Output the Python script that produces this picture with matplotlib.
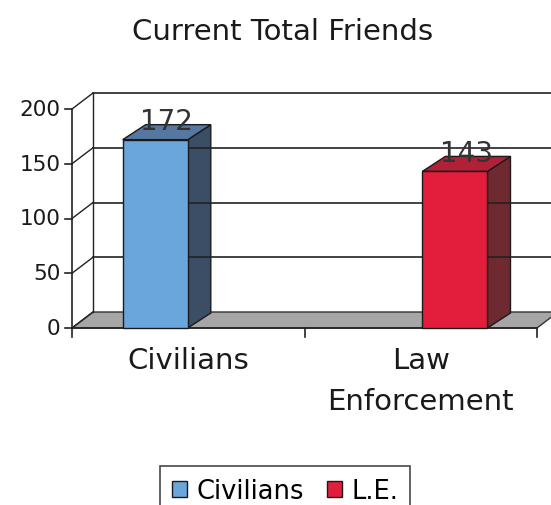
import numpy as np
import matplotlib.pyplot as plt
from matplotlib.patches import Polygon

# Chart data
categories = ["Civilians", "Law\nEnforcement"]
series_names = ["Civilians", "L.E."]
civilians = [172, 0]
law_enf = [0, 143]
yticks = [0, 50, 100, 150, 200]

# colours: front, side, top
blue = ("#6aa6dc", "#3c4d66", "#5577a0")
red = ("#e21e3c", "#6e2a30", "#b02036")

fig = plt.figure(figsize=(5.51, 5.06), dpi=100)
W, H = 551, 506
ax = fig.add_axes([72 / W, 1 - 329 / H, (537 - 72) / W, (329 - 110) / H])
ax.set_xlim(0, 2)
ax.set_ylim(0, 200)
ax.axis("off")

# pixel -> data helpers for the fake depth
px_x = 2 / (537 - 72)
px_y = 200 / (329 - 110)
wdx, wdy = 21 * px_x, 16 * px_y     # wall / floor depth
bdx, bdy = 23 * px_x, 15 * px_y     # bar depth

kw = dict(clip_on=False)
# back wall gridlines
for t in yticks:
    if t > 0:
        ax.plot([wdx, 2.2], [t + wdy, t + wdy], color="#222222", lw=1.2, **kw)
    ax.plot([0, wdx], [t, t + wdy], color="#222222", lw=1.0, **kw)
ax.plot([wdx, wdx], [wdy, 200 + wdy], color="#222222", lw=1.0, **kw)

# floor
ax.add_patch(Polygon([(0, 0), (2, 0), (2 + wdx, wdy), (wdx, wdy)],
                     closed=True, fc="#a6a6a6", ec="#333333", lw=1.0, **kw))

# front axis with ticks
ax.plot([0, 0], [0, 200], color="#222222", lw=1.2, **kw)
for t in yticks:
    ax.plot([-0.03, 0], [t, t], color="#222222", lw=1.2, **kw)
    ax.text(-0.05, t, str(t), ha="right", va="center", fontsize=15.5,
            color="#1a1a1a")
ax.plot([0, 2], [0, 0], color="#222222", lw=1.2, **kw)
for c in range(3):
    ax.plot([c, c], [0, -8], color="#222222", lw=1.2, **kw)

# bars (grouped, two series)
width = 0.28
offsets = [-0.142, 0.147]
x = np.arange(len(categories)) + 0.5
for vals, off, col in [(civilians, offsets[0], blue), (law_enf, offsets[1], red)]:
    xs = x + off
    for xi, v in zip(xs, vals):
        if v == 0:
            continue
        l, r = xi - width / 2, xi + width / 2
        ax.add_patch(Polygon([(r, 0), (r + bdx, bdy), (r + bdx, v + bdy), (r, v)],
                             closed=True, fc=col[1], ec="#1a1a1a", lw=1.0, **kw))
        ax.add_patch(Polygon([(l, v), (r, v), (r + bdx, v + bdy), (l + bdx, v + bdy)],
                             closed=True, fc=col[2], ec="#1a1a1a", lw=1.0, **kw))
        ax.text(xi + bdx / 2, v + 17, str(v), ha="center", va="center",
                fontsize=20, color="#333333", zorder=5, **kw)
    ax.bar([xi for xi, v in zip(xs, vals) if v],
           [v for v in vals if v], width=width, color=col[0],
           edgecolor="#1a1a1a", lw=1.0, clip_on=False, zorder=3)

# category labels
for xi, lab in zip(x, categories):
    ax.text(xi, -16, lab, ha="center", va="top", fontsize=21,
            linespacing=1.6, color="#1a1a1a", **kw)

# title
fig.text(283 / W, 1 - 32 / H, "Current Total Friends", ha="center", va="center",
         fontsize=21, color="#1a1a1a")

# legend
handles = [plt.Rectangle((0, 0), 1, 1, fc=blue[0], ec="#1a1a1a"),
           plt.Rectangle((0, 0), 1, 1, fc=red[0], ec="#1a1a1a")]
leg = fig.legend(handles, series_names, loc="center", bbox_to_anchor=(285 / W, 1 - 492 / H),
                 ncol=2, fontsize=18.5, frameon=True, fancybox=False, edgecolor="#1a1a1a",
                 handlelength=0.6, handleheight=0.6, handletextpad=0.35, columnspacing=0.9,
                 borderpad=0.45)
leg.get_frame().set_linewidth(1.2)

fig.savefig("out.png", dpi=100)
